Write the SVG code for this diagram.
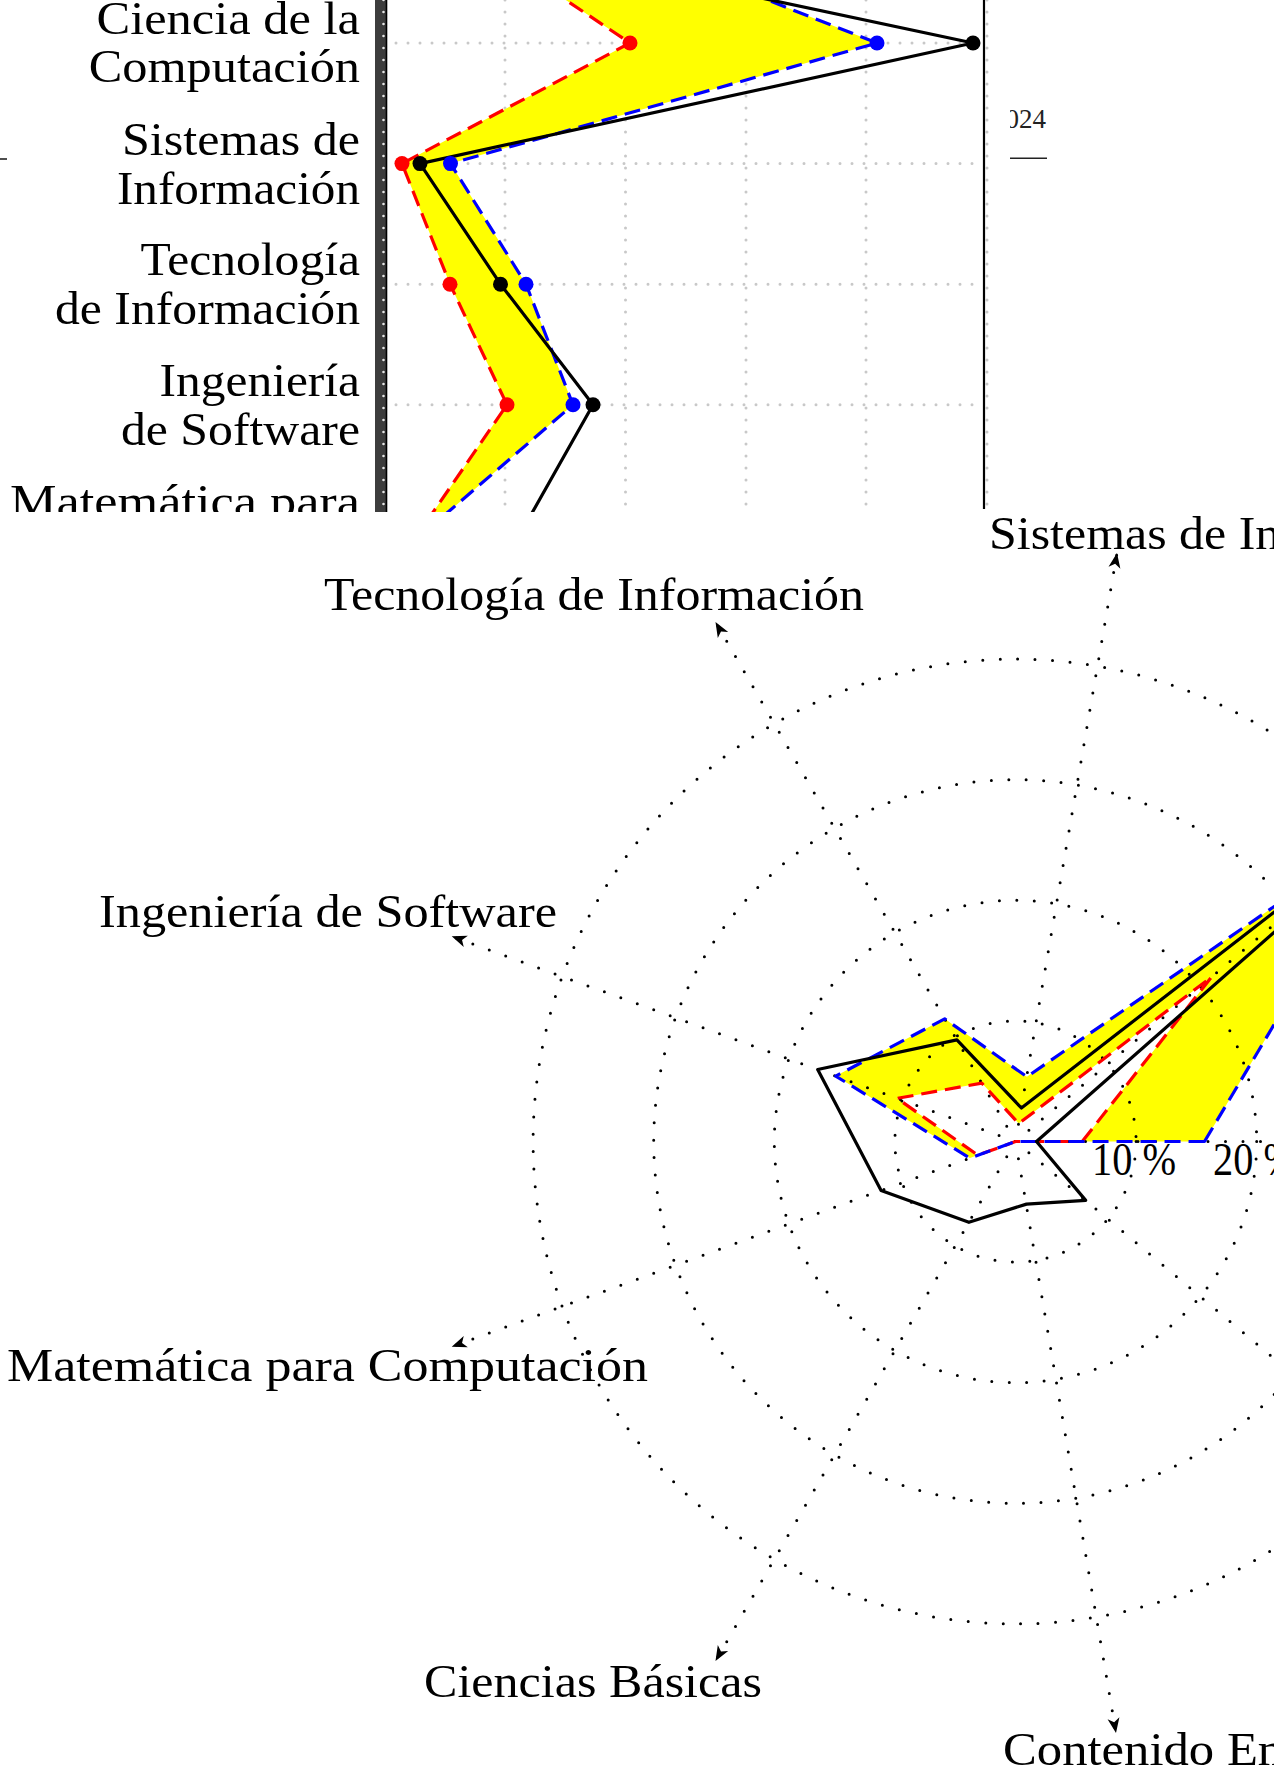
<svg xmlns="http://www.w3.org/2000/svg" width="1274" height="1776" viewBox="0 0 1274 1776">
<defs>
<style>
.lbl{font-family:"Liberation Serif","Times New Roman",serif;font-size:47px;fill:#000}
.pct{font-family:"Liberation Serif","Times New Roman",serif;font-size:47px;fill:#000}
.leg{font-family:"Liberation Serif","Times New Roman",serif;font-size:27px;fill:#222}
.grid{stroke:#c8c8c8;stroke-width:3;stroke-dasharray:0 12;stroke-linecap:round;fill:none}
.dotg{stroke:#000;stroke-width:3;stroke-dasharray:0 17.5;stroke-linecap:round;fill:none}
.red{stroke:#ff0000;stroke-width:3.2;stroke-dasharray:16 8;fill:none;stroke-linejoin:round}
.blue{stroke:#0000ff;stroke-width:3.2;stroke-dasharray:16 8;fill:none;stroke-linejoin:round}
.blk{stroke:#000;stroke-width:3.2;fill:none;stroke-linejoin:round}
.fillY{fill:#ffff00;stroke:none}
</style>
<clipPath id="topclip"><rect x="0" y="0" width="1274" height="512"/></clipPath>
<clipPath id="legclip"><rect x="1010" y="90" width="80" height="80"/></clipPath>
<marker id="arr" viewBox="-16 -7 17 14" refX="0" refY="0" markerWidth="17" markerHeight="14" markerUnits="userSpaceOnUse" orient="auto">
<path d="M0,0 L-15,-6 L-11,0 L-15,6 Z" fill="#000"/>
</marker>
</defs>
<rect x="0" y="0" width="1274" height="1776" fill="#fff"/>

<g id="top-chart" clip-path="url(#topclip)">
  <g id="top-grid">
    <line class="grid" x1="505" y1="0" x2="505" y2="512"/>
    <line class="grid" x1="625.5" y1="0" x2="625.5" y2="512"/>
    <line class="grid" x1="746" y1="0" x2="746" y2="512"/>
    <line class="grid" x1="866" y1="0" x2="866" y2="512"/>
    <line class="grid" x1="987" y1="0" x2="987" y2="512"/>
    <line class="grid" x1="396" y1="43" x2="984" y2="43"/>
    <line class="grid" x1="396" y1="163.6" x2="984" y2="163.6"/>
    <line class="grid" x1="396" y1="284.2" x2="984" y2="284.2"/>
    <line class="grid" x1="396" y1="404.8" x2="984" y2="404.8"/>
  </g>
  <polygon class="fillY" points="450,-77.6 630,43 402,163.6 450,284.2 507,404.8 424,525.4 385,646 432.5,525.4 573,404.8 526,284.2 450.5,163.6 877,43 570,-77.6"/>
  <g id="top-series">
    <polyline class="red" points="450,-77.6 630,43 402,163.6 450,284.2 507,404.8 424,525.4 385,646"/>
    <polyline class="blue" points="570,-77.6 877,43 450.5,163.6 526,284.2 573,404.8 432.5,525.4 385,646"/>
    <polyline class="blk" points="405.5,-77.6 973,43 420,163.6 500.5,284.2 593,404.8 525,525.4 476,646"/>
    <g fill="#ff0000">
      <circle cx="630" cy="43" r="7.5"/><circle cx="402" cy="163.6" r="7.5"/><circle cx="450" cy="284.2" r="7.5"/><circle cx="507" cy="404.8" r="7.5"/>
    </g>
    <g fill="#0000ff">
      <circle cx="877" cy="43" r="7.5"/><circle cx="450.5" cy="163.6" r="7.5"/><circle cx="526" cy="284.2" r="7.5"/><circle cx="573" cy="404.8" r="7.5"/>
    </g>
    <g fill="#000">
      <circle cx="973" cy="43" r="7.5"/><circle cx="420" cy="163.6" r="7.5"/><circle cx="500.5" cy="284.2" r="7.5"/><circle cx="593" cy="404.8" r="7.5"/>
    </g>
  </g>
  <g id="top-axes">
    <rect x="375" y="0" width="11" height="512" fill="#3d3d3d"/>
    <line x1="383.5" y1="0" x2="383.5" y2="512" stroke="#e6e6e6" stroke-width="2.6" stroke-dasharray="0 12" stroke-linecap="round"/>
    <line x1="386.5" y1="0" x2="386.5" y2="512" stroke="#000" stroke-width="1.6"/>
    <line x1="984" y1="0" x2="984" y2="509" stroke="#000" stroke-width="2.2"/>
  </g>
  <g id="top-labels" class="lbl">
    <text x="96.5" y="34" textLength="263.5" lengthAdjust="spacingAndGlyphs">Ciencia de la</text>
    <text x="88.7" y="82" textLength="271.3" lengthAdjust="spacingAndGlyphs">Computación</text>
    <text x="121.9" y="155" textLength="238.1" lengthAdjust="spacingAndGlyphs">Sistemas de</text>
    <text x="117" y="203.5" textLength="243" lengthAdjust="spacingAndGlyphs">Información</text>
    <text x="140.4" y="275.2" textLength="219.6" lengthAdjust="spacingAndGlyphs">Tecnología</text>
    <text x="55" y="324" textLength="305" lengthAdjust="spacingAndGlyphs">de Información</text>
    <text x="159.6" y="395.8" textLength="200.4" lengthAdjust="spacingAndGlyphs">Ingeniería</text>
    <text x="120.9" y="444.5" textLength="239.1" lengthAdjust="spacingAndGlyphs">de Software</text>
    <text x="10" y="517" textLength="350" lengthAdjust="spacingAndGlyphs">Matemática para</text>
  </g>
</g>

<g id="legend-fragments">
  <g clip-path="url(#legclip)">
    <text class="leg" x="1046" y="127.7" text-anchor="end">024</text>
  </g>
  <line x1="1010" y1="158.3" x2="1047" y2="158.3" stroke="#222" stroke-width="1.6"/>
  <line x1="0" y1="159" x2="7" y2="159" stroke="#222" stroke-width="1.6"/>
</g>

<g id="radar">
  <path class="fillY" fill-rule="evenodd" d="M1204.5,1141.5 L1393.1,824.6 L1026.9,1076.8 L944.7,1018.8 L835.7,1076.1 L969.9,1158.1 L1015.5,1141.5 Z M1082.2,1141.5 L1211.6,976.9 L1018.7,1123.6 L981.8,1083.1 L897.1,1098.4 L977.9,1155.2 L1015.5,1141.5 Z"/>
  <g id="radar-grid">
    <circle class="dotg" cx="1015.5" cy="1141.5" r="120.6"/>
    <circle class="dotg" cx="1015.5" cy="1141.5" r="241.2"/>
    <circle class="dotg" cx="1015.5" cy="1141.5" r="361.8"/>
    <circle class="dotg" cx="1015.5" cy="1141.5" r="482.4"/>
  </g>
  <g id="radar-axes">
    <line class="dotg" x1="1015.5" y1="1141.5" x2="1615.5" y2="1141.5" marker-end="url(#arr)"/>
    <line class="dotg" x1="1015.5" y1="1141.5" x2="1475.1" y2="755.8" marker-end="url(#arr)"/>
    <line class="dotg" x1="1015.5" y1="1141.5" x2="1117" y2="553" marker-end="url(#arr)"/>
    <line class="dotg" x1="1015.5" y1="1141.5" x2="715.5" y2="621.9" marker-end="url(#arr)"/>
    <line class="dotg" x1="1015.5" y1="1141.5" x2="451.7" y2="936.3" marker-end="url(#arr)"/>
    <line class="dotg" x1="1015.5" y1="1141.5" x2="451.7" y2="1346.7" marker-end="url(#arr)"/>
    <line class="dotg" x1="1015.5" y1="1141.5" x2="715.5" y2="1661.1" marker-end="url(#arr)"/>
    <line class="dotg" x1="1015.5" y1="1141.5" x2="1116" y2="1733" marker-end="url(#arr)"/>
    <line class="dotg" x1="1015.5" y1="1141.5" x2="1475.1" y2="1527.2" marker-end="url(#arr)"/>
  </g>
  <g id="radar-series">
    <polygon class="red" points="1082.2,1141.5 1211.6,976.9 1018.7,1123.6 981.8,1083.1 897.1,1098.4 977.9,1155.2 1015.5,1141.5"/>
    <polygon class="blue" points="1204.5,1141.5 1393.1,824.6 1026.9,1076.8 944.7,1018.8 835.7,1076.1 969.9,1158.1 1015.5,1141.5"/>
    <polygon class="blk" points="1036.5,1141.5 1467.4,762.2 1021.4,1108 956.9,1039.9 817.7,1069.5 881.1,1190.4 968.9,1222.3 1026.5,1204.1 1085.7,1200.4"/>
  </g>
  <g id="radar-labels" class="lbl">
    <text x="989" y="548.5" textLength="496.6" lengthAdjust="spacingAndGlyphs">Sistemas de Información</text>
    <text x="324" y="610" textLength="540" lengthAdjust="spacingAndGlyphs">Tecnología de Información</text>
    <text x="99" y="926.5" textLength="458" lengthAdjust="spacingAndGlyphs">Ingeniería de Software</text>
    <text x="7" y="1381" textLength="641" lengthAdjust="spacingAndGlyphs">Matemática para Computación</text>
    <text x="424" y="1697" textLength="338" lengthAdjust="spacingAndGlyphs">Ciencias Básicas</text>
    <text x="1003" y="1765" textLength="468.8" lengthAdjust="spacingAndGlyphs">Contenido Empresarial</text>
  </g>
  <g id="radar-ticks">
    <text class="pct" x="1092" y="1175" textLength="84" lengthAdjust="spacingAndGlyphs">10 %</text>
    <text class="pct" x="1213" y="1175" textLength="84" lengthAdjust="spacingAndGlyphs">20 %</text>
  </g>
</g>
</svg>
